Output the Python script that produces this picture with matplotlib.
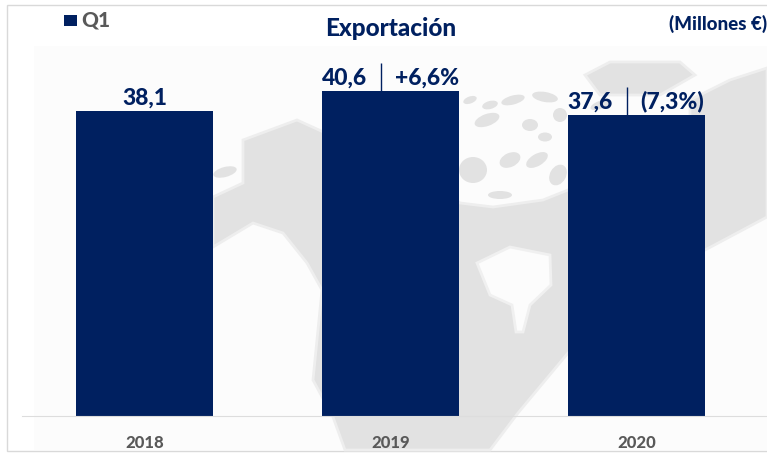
import matplotlib
matplotlib.use('Agg')
import matplotlib.pyplot as plt
from matplotlib.patches import Ellipse, Polygon, Rectangle

#-- chart data
years = ['2018', '2019', '2020']
values = [38.1, 40.6, 37.6]
value_labels = ['38,1', '40,6', '37,6']
change_labels = ['', '+6,6%', '(7,3%)']

navy = '#002060'
grey = '#595959'
land = '#e2e2e2'
paper = '#fcfcfc'

plt.rcParams['font.family'] = ['Lato', 'DejaVu Sans']

fig = plt.figure(figsize=(7.67, 4.53), dpi=100)
W, H = 767.0, 453.0

#-- background layer in pixel coordinates
bg = fig.add_axes([0, 0, 1, 1])
bg.set_xlim(0, W)
bg.set_ylim(H, 0)
bg.axis('off')
bg.add_patch(Rectangle((7, 5), 780, 446, fc='white', ec='#d9d9d9', lw=1))
bg.add_patch(Rectangle((34, 46), 733, 404, fc=paper, ec='none'))

#-- faint map behind the bars
america = [(213, 197), (243, 183), (243, 140), (297, 120), (330, 135), (400, 150), (460, 203), (493, 207), (543, 200),
           (568, 190), (600, 200), (600, 320), (568, 353), (518, 413), (490, 450), (345, 450), (333, 417), (313, 380),
           (322, 290), (307, 263), (283, 233), (253, 223), (213, 247)]
europe = [(690, 100), (730, 80), (767, 68), (767, 217), (705, 250), (690, 250)]
greenland = [(585, 75), (610, 62), (680, 62), (695, 75), (660, 95), (600, 95)]
hudson = [(477, 263), (510, 247), (550, 255), (551, 285), (530, 305), (523, 332), (516, 332), (512, 305), (490, 295)]
for s in [america, europe, greenland]:
    bg.add_patch(Polygon(s, fc=land, ec='#eeeeee', lw=2))
bg.add_patch(Polygon(hudson, fc=paper, ec='#f0f0f0', lw=2))

#-- arctic islands, x, y, width, height, angle
islands = [(225, 172, 24, 10, -15), (487, 120, 26, 12, -20), (513, 100, 24, 9, -15), (545, 97, 26, 10, 10),
           (530, 125, 16, 12, 0), (545, 137, 14, 9, 0), (510, 160, 22, 14, -25), (537, 160, 24, 12, -30),
           (558, 175, 16, 22, 30), (473, 170, 28, 26, 0), (500, 195, 24, 8, 0), (533, 240, 14, 10, 0),
           (490, 105, 16, 8, -15), (470, 100, 14, 7, -20), (560, 115, 14, 14, 0), (600, 105, 20, 8, -20)]
for x, y, w, h, a in islands:
    bg.add_patch(Ellipse((x, y), w, h, angle=a, fc=land, ec='none'))

#-- bars
ax = fig.add_axes([22 / W, 1 - 416 / H, 745 / W, (416 - 46) / H])
ax.patch.set_alpha(0)
pos = [0, 1, 2]
ax.bar(pos, values, width=137 / 246.0, color=navy)
ax.set_xlim(-(144.5 - 22) / 246.0, (767 - 144.5) / 246.0)
ax.set_ylim(0, 46.25)
ax.set_yticks([])
ax.set_xticks(pos)
ax.set_xticklabels(years, fontsize=12, fontweight='black', color=grey)
ax.tick_params(axis='x', length=0, pad=14)
for s in ['top', 'left', 'right']:
    ax.spines[s].set_visible(False)
ax.spines['bottom'].set_color('#dddddd')

#-- data labels
for i in pos:
    if change_labels[i]:
        ax.vlines(i - 0.04, values[i], values[i] + 3.5, color=navy, lw=1)
        ax.annotate(value_labels[i], (i - 0.04, values[i]), xytext=(-10, 2), textcoords='offset points', ha='right', va='bottom',
                    fontsize=16.5, fontweight='black', color=navy)
        ax.annotate(change_labels[i], (i - 0.04, values[i]), xytext=(10, 2), textcoords='offset points', ha='left', va='bottom',
                    fontsize=16.5, fontweight='black', color=navy)
    else:
        ax.annotate(value_labels[i], (i, values[i]), xytext=(0, 2), textcoords='offset points', ha='center', va='bottom',
                    fontsize=16.5, fontweight='black', color=navy)

#-- title, legend, unit
fig.text(391 / W, 1 - 29 / H, 'Exportación', ha='center', va='center', fontsize=17.5, fontweight='black', color=navy)
fig.text(767 / W, 1 - 24 / H, '(Millones €)', ha='right', va='center', fontsize=13.5, fontweight='black', color=navy)
fig.text(81 / W, 1 - 20 / H, 'Q1', ha='left', va='center', fontsize=15, fontweight='black', color=grey)
bg.add_patch(Rectangle((64, 15), 13, 11, fc=navy, ec='none'))

fig.savefig('out.png', dpi=100)
